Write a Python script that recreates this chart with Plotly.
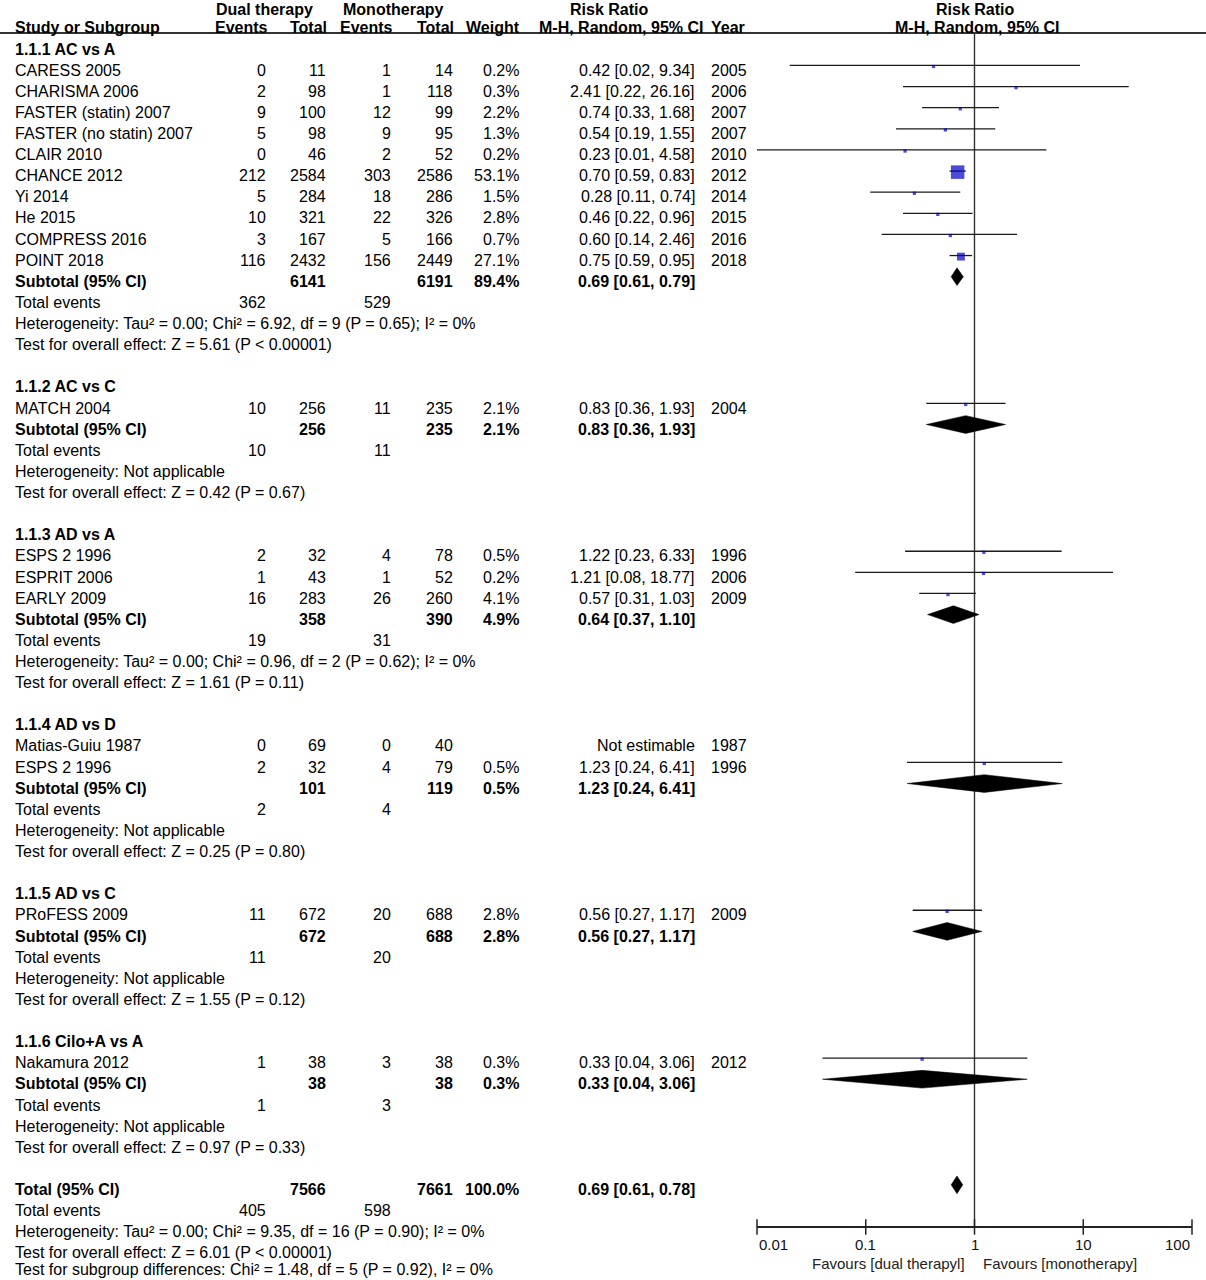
import math
import plotly.graph_objects as go

# ---------------- data ----------------
group_labels = ["1.1.1 AC vs A", "1.1.2 AC vs C", "1.1.3 AD vs A",
                "1.1.4 AD vs D", "1.1.5 AD vs C", "1.1.6 Cilo+A vs A"]
study_group = [0] * 10 + [1] + [2] * 3 + [3] * 2 + [4] + [5]
study_names = ["CARESS 2005", "CHARISMA 2006", "FASTER (statin) 2007",
               "FASTER (no statin) 2007", "CLAIR 2010", "CHANCE 2012", "Yi 2014",
               "He 2015", "COMPRESS 2016", "POINT 2018", "MATCH 2004", "ESPS 2 1996",
               "ESPRIT 2006", "EARLY 2009", "Matias-Guiu 1987", "ESPS 2 1996",
               "PRoFESS 2009", "Nakamura 2012"]
dual_events = [0, 2, 9, 5, 0, 212, 5, 10, 3, 116, 10, 2, 1, 16, 0, 2, 11, 1]
dual_total = [11, 98, 100, 98, 46, 2584, 284, 321, 167, 2432, 256, 32, 43, 283, 69, 32, 672, 38]
mono_events = [1, 1, 12, 9, 2, 303, 18, 22, 5, 156, 11, 4, 1, 26, 0, 4, 20, 3]
mono_total = [14, 118, 99, 95, 52, 2586, 286, 326, 166, 2449, 235, 78, 52, 260, 40, 79, 688, 38]
weights = [0.2, 0.3, 2.2, 1.3, 0.2, 53.1, 1.5, 2.8, 0.7, 27.1, 2.1, 0.5, 0.2, 4.1, None, 0.5, 2.8, 0.3]
rr = [0.42, 2.41, 0.74, 0.54, 0.23, 0.70, 0.28, 0.46, 0.60, 0.75, 0.83, 1.22, 1.21, 0.57, None, 1.23, 0.56, 0.33]
rr_lo = [0.02, 0.22, 0.33, 0.19, 0.01, 0.59, 0.11, 0.22, 0.14, 0.59, 0.36, 0.23, 0.08, 0.31, None, 0.24, 0.27, 0.04]
rr_hi = [9.34, 26.16, 1.68, 1.55, 4.58, 0.83, 0.74, 0.96, 2.46, 0.95, 1.93, 6.33, 18.77, 1.03, None, 6.41, 1.17, 3.06]
years = [2005, 2006, 2007, 2007, 2010, 2012, 2014, 2015, 2016, 2018, 2004, 1996, 2006, 2009, 1987, 1996, 2009, 2012]

sub_dual_total = [6141, 256, 358, 101, 672, 38]
sub_mono_total = [6191, 235, 390, 119, 688, 38]
sub_weight = [89.4, 2.1, 4.9, 0.5, 2.8, 0.3]
sub_rr = [0.69, 0.83, 0.64, 1.23, 0.56, 0.33]
sub_lo = [0.61, 0.36, 0.37, 0.24, 0.27, 0.04]
sub_hi = [0.79, 1.93, 1.10, 6.41, 1.17, 3.06]
sub_dual_events = [362, 10, 19, 2, 11, 1]
sub_mono_events = [529, 11, 31, 4, 20, 3]
sub_het = ["Heterogeneity: Tau² = 0.00; Chi² = 6.92, df = 9 (P = 0.65); I² = 0%",
           "Heterogeneity: Not applicable",
           "Heterogeneity: Tau² = 0.00; Chi² = 0.96, df = 2 (P = 0.62); I² = 0%",
           "Heterogeneity: Not applicable",
           "Heterogeneity: Not applicable",
           "Heterogeneity: Not applicable"]
sub_test = ["Test for overall effect: Z = 5.61 (P < 0.00001)",
            "Test for overall effect: Z = 0.42 (P = 0.67)",
            "Test for overall effect: Z = 1.61 (P = 0.11)",
            "Test for overall effect: Z = 0.25 (P = 0.80)",
            "Test for overall effect: Z = 1.55 (P = 0.12)",
            "Test for overall effect: Z = 0.97 (P = 0.33)"]

total_dual_total = 7566
total_mono_total = 7661
total_weight = 100.0
total_rr = 0.69
total_lo = 0.61
total_hi = 0.78
total_dual_events = 405
total_mono_events = 598
total_het = "Heterogeneity: Tau² = 0.00; Chi² = 9.35, df = 16 (P = 0.90); I² = 0%"
total_test = "Test for overall effect: Z = 6.01 (P < 0.00001)"
subgroup_test = "Test for subgroup differences: Chi² = 1.48, df = 5 (P = 0.92), I² = 0%"

tick_values = [0.01, 0.1, 1, 10, 100]
tick_labels = ["0.01", "0.1", "1", "10", "100"]
favours_left = "Favours [dual therapyl]"
favours_right = "Favours [monotherapy]"

# ---------------- layout geometry ----------------
W, H = 1206, 1280
ROW0, DY = 49.0, 21.12          # pixel centre of row 0, row pitch


def row_of(px):
    return (px - ROW0) / DY


FONT = "Liberation Sans, Arial, sans-serif"
FS = 16

# column anchors (pixels)
C_NAME = 13
C_DE, C_DT, C_ME, C_MT, C_WT, C_RR = 268, 328, 393, 455, 521, 697
C_YR = 709

annotations = []


def txt(px, r, s, anchor="left", bold=False, size=FS, family=FONT):
    annotations.append(dict(
        x=px / W, xref="paper", y=r, yref="y", text=("<b>%s</b>" % s) if bold else s,
        xanchor=anchor, yanchor="middle", showarrow=False,
        font=dict(family=family, size=size, color="#000")))


def fmt_ci(a, b, c):
    return "%.2f [%.2f, %.2f]" % (a, b, c)


# header
HS = 16
TOPROW = row_of(9)
txt(264, TOPROW, "Dual therapy", "center", True, HS)
txt(393, TOPROW, "Monotherapy", "center", True, HS)
txt(609, TOPROW, "Risk Ratio", "center", True, HS)
txt(975, TOPROW, "Risk Ratio", "center", True, HS)
H2 = row_of(27)
txt(C_NAME, H2, "Study or Subgroup", "left", True, HS)
txt(270, H2, "Events", "right", True, HS)
txt(329, H2, "Total", "right", True, HS)
txt(395, H2, "Events", "right", True, HS)
txt(456, H2, "Total", "right", True, HS)
txt(522, H2, "Weight", "right", True, HS)
txt(705, H2, "M-H, Random, 95% CI", "right", True, HS)
txt(709, H2, "Year", "left", True, HS)
txt(977, H2, "M-H, Random, 95% CI", "center", True, HS)

G_LINE = -0.22   # graphic offset relative to text row
G_MARK = -0.17
DH = 0.42        # diamond half height in rows

ci_x, ci_y = [], []
sq_x, sq_y, sq_s = [], [], []
diamonds = []

r = 0
for g, lab in enumerate(group_labels):
    txt(C_NAME, r, lab, bold=True)
    r += 1
    for i, sg in enumerate(study_group):
        if sg != g:
            continue
        txt(C_NAME, r, study_names[i])
        txt(C_DE, r, str(dual_events[i]), "right")
        txt(C_DT, r, str(dual_total[i]), "right")
        txt(C_ME, r, str(mono_events[i]), "right")
        txt(C_MT, r, str(mono_total[i]), "right")
        if weights[i] is not None:
            txt(C_WT, r, "%.1f%%" % weights[i], "right")
            txt(C_RR, r, fmt_ci(rr[i], rr_lo[i], rr_hi[i]), "right")
            ci_x += [rr_lo[i], rr_hi[i], None]
            ci_y += [r + G_LINE, r + G_LINE, None]
            sq_x.append(rr[i])
            sq_y.append(r + G_MARK)
            sq_s.append(max(3.3, 13.5 * (weights[i] / 53.1) ** 0.8))
        else:
            txt(C_RR, r, "Not estimable", "right")
        txt(C_YR, r, str(years[i]))
        r += 1
    txt(C_NAME, r, "Subtotal (95% CI)", bold=True)
    txt(C_DT, r, str(sub_dual_total[g]), "right", True)
    txt(C_MT, r, str(sub_mono_total[g]), "right", True)
    txt(C_WT, r, "%.1f%%" % sub_weight[g], "right", True)
    txt(C_RR, r, fmt_ci(sub_rr[g], sub_lo[g], sub_hi[g]), "right", True)
    diamonds.append((sub_lo[g], sub_rr[g], sub_hi[g], r + G_LINE))
    r += 1
    txt(C_NAME, r, "Total events")
    txt(C_DE, r, str(sub_dual_events[g]), "right")
    txt(C_ME, r, str(sub_mono_events[g]), "right")
    r += 1
    txt(C_NAME, r, sub_het[g])
    r += 1
    txt(C_NAME, r, sub_test[g])
    r += 2

# overall
txt(C_NAME, r, "Total (95% CI)", bold=True)
txt(C_DT, r, str(total_dual_total), "right", True)
txt(C_MT, r, str(total_mono_total), "right", True)
txt(C_WT, r, "%.1f%%" % total_weight, "right", True)
txt(C_RR, r, fmt_ci(total_rr, total_lo, total_hi), "right", True)
diamonds.append((total_lo, total_rr, total_hi, r + G_LINE))
r += 1
txt(C_NAME, r, "Total events")
txt(C_DE, r, str(total_dual_events), "right")
txt(C_ME, r, str(total_mono_events), "right")
r += 1
txt(C_NAME, r, total_het)
r += 1
txt(C_NAME, r, total_test)
r += 1
# last line sits at the very bottom edge; nudge it up so it stays inside the page
txt(C_NAME, r - 0.2, subgroup_test)

# ---------------- figure ----------------
fig = go.Figure()

AXIS_PX = 1227
TOP_PX = 33

# null line at RR = 1
fig.add_trace(go.Scatter(x=[1, 1], y=[row_of(TOP_PX), row_of(AXIS_PX)], mode="lines",
                         line=dict(color="#333", width=1.4), hoverinfo="skip"))
# confidence intervals
fig.add_trace(go.Scatter(x=ci_x, y=ci_y, mode="lines",
                         line=dict(color="#1a1a1a", width=1.3), hoverinfo="skip"))
# study squares
fig.add_trace(go.Scatter(x=sq_x, y=sq_y, mode="markers",
                         marker=dict(symbol="square", size=sq_s, color="#0000c4",
                                     line=dict(width=0)), hoverinfo="skip"))
# diamonds
for lo, mid, hi, yy in diamonds:
    fig.add_trace(go.Scatter(x=[lo, mid, hi, mid, lo], y=[yy, yy - DH, yy, yy + DH, yy],
                             mode="lines", fill="toself", fillcolor="black",
                             line=dict(color="black", width=0.5), hoverinfo="skip"))
# axis tick marks
fig.add_trace(go.Scatter(x=tick_values, y=[row_of(AXIS_PX)] * len(tick_values), mode="markers",
                         marker=dict(symbol="line-ns", size=11,
                                     line=dict(color="#222", width=1.5)),
                         hoverinfo="skip", cliponaxis=False))

# tick labels
for k, (tv, tl) in enumerate(zip(tick_values, tick_labels)):
    anc = "left" if k == 0 else ("right" if k == len(tick_values) - 1 else "center")
    annotations.append(dict(x=math.log10(tv), xref="x", y=row_of(1244), yref="y", text=tl,
                            xanchor=anc, yanchor="middle", showarrow=False,
                            font=dict(family=FONT, size=15, color="#111")))
annotations.append(dict(x=967 / W, xref="paper", y=row_of(1263), yref="y", text=favours_left,
                        xanchor="right", yanchor="middle", showarrow=False,
                        font=dict(family=FONT, size=15, color="#222")))
annotations.append(dict(x=981 / W, xref="paper", y=row_of(1263), yref="y", text=favours_right,
                        xanchor="left", yanchor="middle", showarrow=False,
                        font=dict(family=FONT, size=15, color="#222")))

fig.update_layout(
    width=W, height=H, margin=dict(l=0, r=0, t=0, b=0),
    paper_bgcolor="white", plot_bgcolor="white", showlegend=False,
    annotations=annotations,
    shapes=[dict(type="line", xref="paper", yref="y", x0=0, x1=1,
                 y0=row_of(TOP_PX), y1=row_of(TOP_PX), line=dict(color="#333", width=2))],
    xaxis=dict(type="log", range=[-2, 2], domain=[757 / W, 1192 / W], anchor="free",
               position=1 - AXIS_PX / H, showline=True, linecolor="#222", linewidth=1.6,
               showgrid=False, zeroline=False, ticks="", showticklabels=False,
               fixedrange=True),
    yaxis=dict(range=[row_of(H), row_of(0)], domain=[0, 1], visible=False,
               showgrid=False, zeroline=False, fixedrange=True),
)

fig.write_html("out.html", config={"displayModeBar": False},
               post_script="document.body.style.margin='0px';")
